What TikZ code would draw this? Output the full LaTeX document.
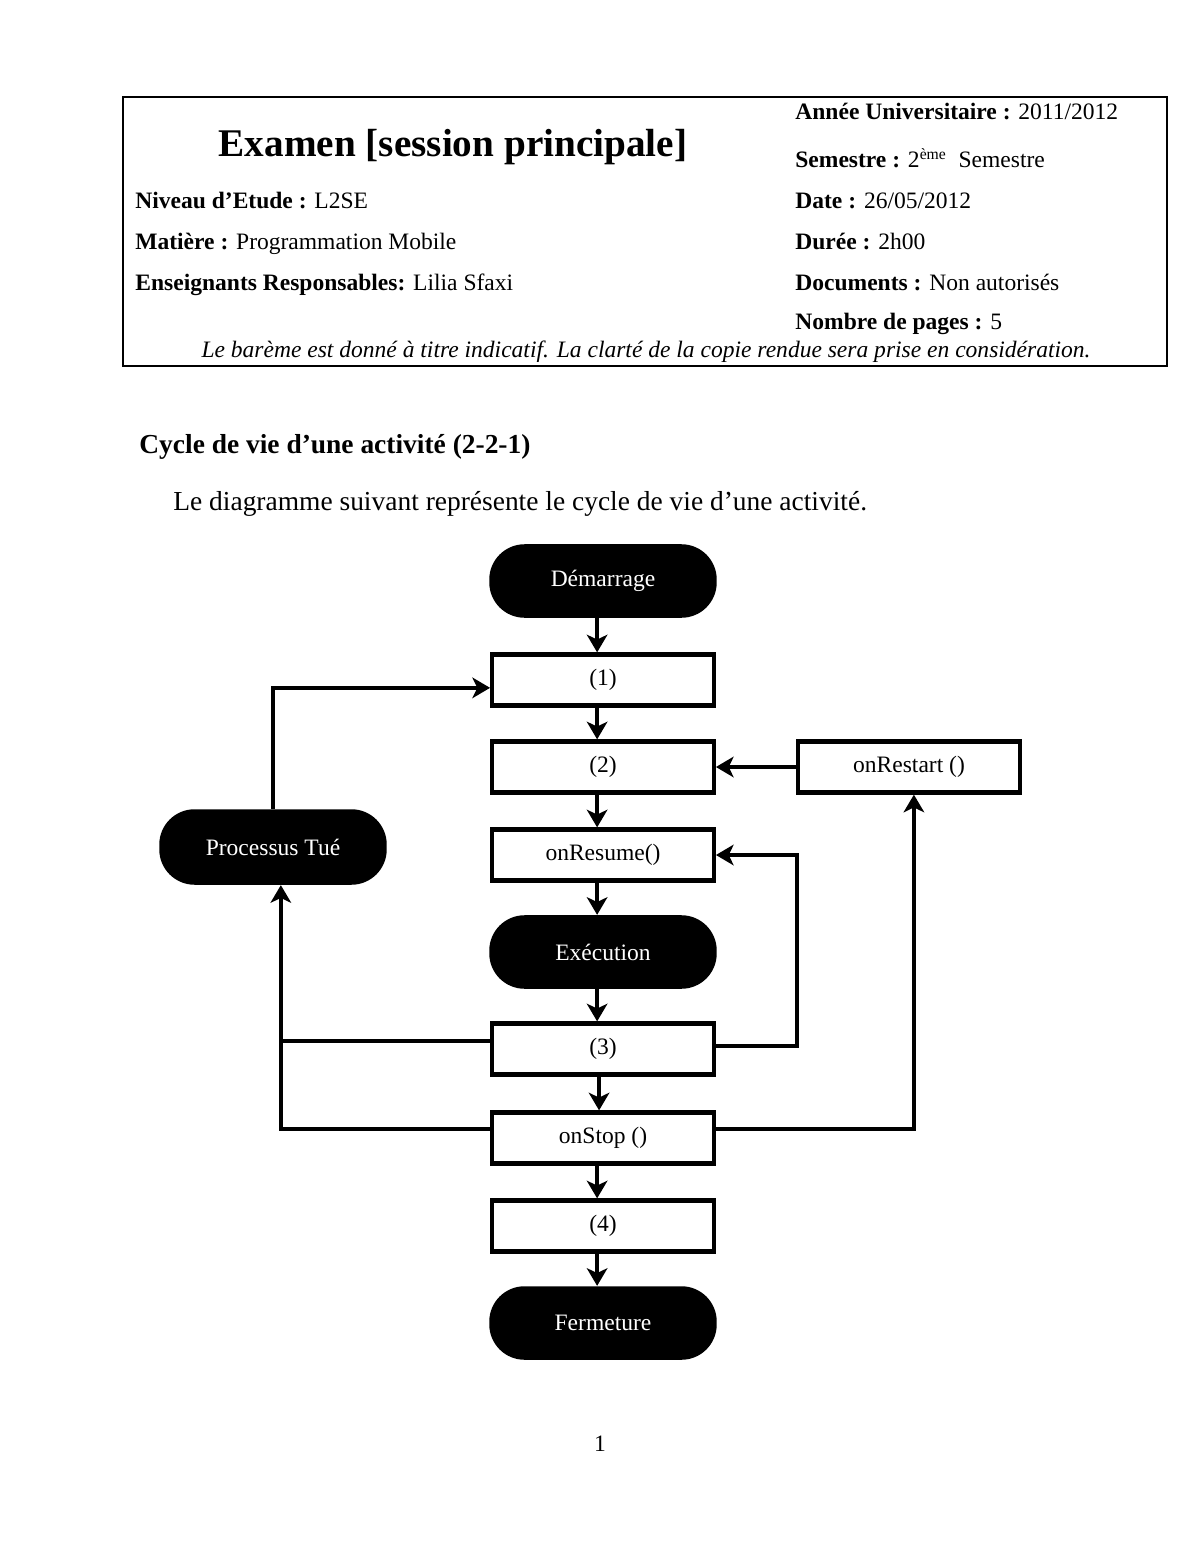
\documentclass[tikz,border=0pt]{standalone}
\usepackage{fontspec}
\setmainfont{Liberation Serif}
\usetikzlibrary{arrows.meta}
\begin{document}
\begin{tikzpicture}[x=0.51pt,y=-0.51pt,
  txt/.style={anchor=base west,inner sep=0pt,font=\fontsize{12}{14}\selectfont},
  ctxt/.style={anchor=base,inner sep=0pt,font=\fontsize{12}{14}\selectfont},
  box/.style={draw,line width=2.2pt,minimum width=113pt,minimum height=26pt,inner sep=0pt,font=\fontsize{12}{14}\selectfont},
  term/.style={fill=black,text=white,minimum width=116pt,minimum height=37.5pt,rounded corners=18pt,inner sep=0pt,font=\fontsize{12}{14}\selectfont},
  link/.style={line width=2.2pt},
  arr/.style={line width=2.2pt,-{Stealth[length=9pt,width=10.5pt,inset=2.5pt]}}]
\useasboundingbox (0,0) rectangle (1200,1553);
% header frame
\draw[line width=0.9pt] (123,97) rectangle (1167,366);
\node[ctxt,font=\fontsize{20}{24}\selectfont\bfseries] (title) at (453,157) {Examen [session principale]};
\node[txt] (niv) at (135,209) {\textbf{Niveau d’Etude :} L2SE};
\node[txt] (mat) at (135,249) {\textbf{Matière :} Programmation Mobile};
\node[txt] (ens) at (135,290) {\textbf{Enseignants Responsables:} Lilia Sfaxi};
\node[txt] (ann) at (795,120) {\textbf{Année Universitaire :} 2011/2012};
\node[txt] (sem) at (795,168) {\textbf{Semestre :} 2\textsuperscript{ème}\ \ Semestre};
\node[txt] (dat) at (795,209) {\textbf{Date :} 26/05/2012};
\node[txt] (dur) at (795,249) {\textbf{Durée :} 2h00};
\node[txt] (doc) at (795,290) {\textbf{Documents :} Non autorisés};
\node[txt] (nbp) at (795,329) {\textbf{Nombre de pages :} 5};
\node[ctxt] (bar) at (646,357) {\textit{Le barème est donné à titre indicatif. La clarté de la copie rendue sera prise en considération.}};
% section
\node[txt,font=\fontsize{14}{17}\selectfont] (sec) at (139,453) {\textbf{Cycle de vie d’une activité (2-2-1)}};
\node[txt,font=\fontsize{14}{17}\selectfont] (intro) at (173,510) {Le diagramme suivant représente le cycle de vie d’une activité.};
% diagram nodes
\node[term] (dem) at (603,581) {Démarrage};
\node[box] (n1) at (603,680) {(1)};
\node[box] (n2) at (603,767) {(2)};
\node[box] (rst) at (909,767) {onRestart ()};
\node[box] (res) at (603,855) {onResume()};
\node[term] (exe) at (603,952) {Exécution};
\node[box] (n3) at (603,1049) {(3)};
\node[box] (stop) at (603,1138) {onStop ()};
\node[box] (n4) at (603,1226) {(4)};
\node[term] (ferm) at (603,1323) {Fermeture};
\node[term,minimum height=38.5pt] (pt) at (273,847) {Processus Tué};
\coordinate (rr) at (797,0);
% main column arrows
\draw[arr] ([xshift=-3pt]dem.south) -- ([xshift=-3pt]n1.north);
\draw[arr] ([xshift=-3pt]n1.south) -- ([xshift=-3pt]n2.north);
\draw[arr] ([xshift=-3pt]n2.south) -- ([xshift=-3pt]res.north);
\draw[arr] ([xshift=-3pt]res.south) -- ([xshift=-3pt]exe.north);
\draw[arr] ([xshift=-3pt]exe.south) -- ([xshift=-3pt]n3.north);
\draw[arr] ([xshift=-2pt]n3.south) -- ([xshift=-2pt]stop.north);
\draw[arr] ([xshift=-3pt]stop.south) -- ([xshift=-3pt]n4.north);
\draw[arr] ([xshift=-3pt]n4.south) -- ([xshift=-3pt]ferm.north);
% side connectors
\draw[arr] (rst.west) -- (n2.east);
\draw[arr] (pt.north) |- ([yshift=-4pt]n1.west);
\draw[link] ([yshift=4pt]n3.west) -- ([yshift=4pt,xshift=4pt]n3.west -| pt.south);
\draw[arr] ([yshift=4.5pt]stop.west) -| ([xshift=4pt]pt.south);
\draw[arr] ([yshift=1.5pt]n3.east) -| (rr |- res.east) -- (res.east);
\draw[arr] ([yshift=4.5pt]stop.east) -| ([xshift=2.5pt]rst.south);
% page number
\node[ctxt] (pg) at (600,1451) {1};
\end{tikzpicture}
\end{document}
